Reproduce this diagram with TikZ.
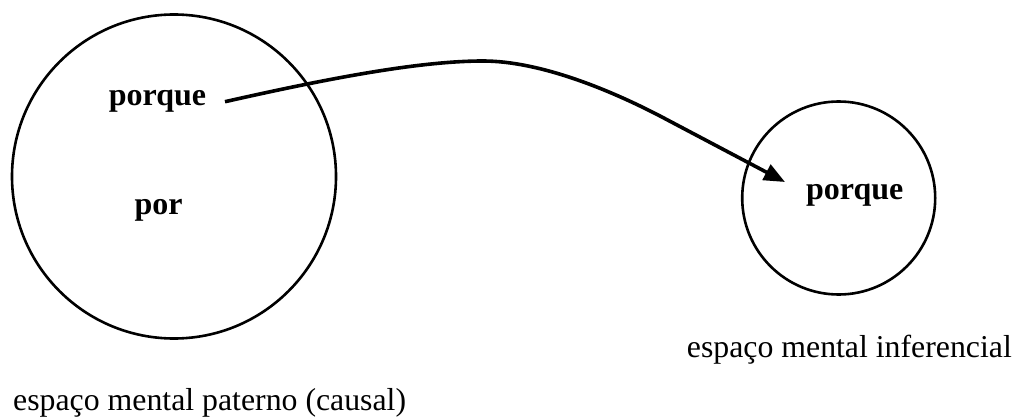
\documentclass[tikz,border=0pt]{standalone}
\usepackage{fontspec}
\setmainfont{Liberation Serif}
\usetikzlibrary{arrows.meta}
\begin{document}
\begin{tikzpicture}[x=1pt,y=-1pt,
  space/.style={draw=black,line width=2.6pt,circle,inner sep=0pt},
  word/.style={font=\fontsize{32}{38}\selectfont\bfseries,inner sep=0pt},
  caption/.style={font=\fontsize{31.8}{38}\selectfont,inner sep=0pt},
  link/.style={line width=3.6pt,-{Triangle[length=21pt,width=17pt]}}]
\useasboundingbox (0,0) rectangle (1015,417);
\node[space,minimum size=324pt] (big) at (174,176.5) {};
\node[space,minimum size=193pt] (small) at (838.7,198) {};
\node[word,anchor=base] (p1) at (157.5,106) {porque};
\node[word,anchor=base] (por) at (158.5,214) {por};
\node[word,anchor=base] (p2) at (854.7,200) {porque};
\node[caption,anchor=base west] (c1) at (13,410) {espaço mental paterno (causal)};
\node[caption,anchor=base east] (c2) at (1012,357) {espaço mental inferencial};
\coordinate (s) at (225,101.7);
\coordinate (pk) at (483,61);
\coordinate (m) at (660,116);
\coordinate (t) at (785,182);
\draw[link] (s) .. controls (330,78) and (420,61) .. (pk)
  .. controls (540,61) and (610,90) .. (m) -- (t);
\end{tikzpicture}
\end{document}
